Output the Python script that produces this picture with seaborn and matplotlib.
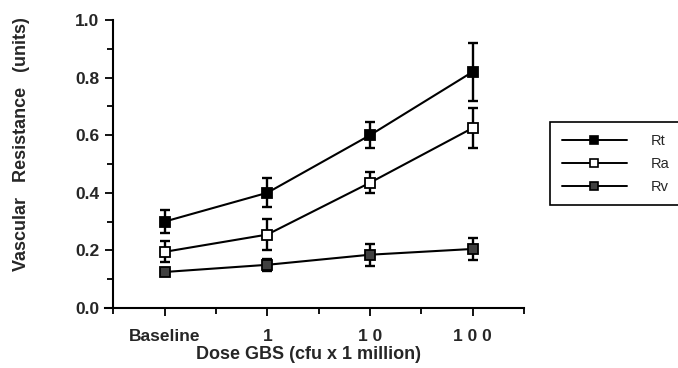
import matplotlib
matplotlib.use("Agg")
import matplotlib.pyplot as plt
from matplotlib.ticker import MultipleLocator
from matplotlib.lines import Line2D
import numpy as np
import seaborn as sns

# Dados
doses = ["Baseline", "1", "1 0", "1 0 0"]
rt = [0.30, 0.40, 0.60, 0.82]
rt_err = [0.04, 0.05, 0.045, 0.10]
ra = [0.195, 0.255, 0.435, 0.625]
ra_err = [0.037, 0.055, 0.037, 0.07]
rv = [0.125, 0.15, 0.185, 0.205]
rv_err = [0.008, 0.02, 0.038, 0.038]

series_names = ["Rt", "Ra", "Rv"]
series_vals = [rt, ra, rv]
series_errs = [rt_err, ra_err, rv_err]
face_colors = ["black", "white", "#404040"]

sns.set_theme(style="white")
plt.rcParams["font.family"] = ["Liberation Sans", "DejaVu Sans"]

fig = plt.figure(figsize=(6.78, 3.68), dpi=100)
ax = fig.add_axes([105 / 678, 1 - 308 / 368, (524 - 105) / 678, (308 - 20) / 368])

pos = np.arange(len(doses))
handles = []
for name, vals, errs, fc in zip(series_names, series_vals, series_errs, face_colors):
    ax.errorbar(pos, vals, yerr=errs, fmt="none", ecolor="black",
                elinewidth=1.7, capsize=3.5, capthick=1.7, zorder=2)
    sns.lineplot(x=pos, y=vals, color="black", linewidth=1.5, marker="s",
                 markersize=6.5, markerfacecolor=fc, markeredgecolor="black",
                 markeredgewidth=1.3, ax=ax, zorder=3)
    handles.append(Line2D([0], [0], color="black", linewidth=1.4, marker="s",
                          markersize=6, markerfacecolor=fc,
                          markeredgecolor="black", markeredgewidth=1.2))

ax.set_xlim(-0.58, 3.5)
ax.set_ylim(0, 1.0)
ax.spines["left"].set_position(("data", -0.5))
ax.spines["top"].set_visible(False)
ax.spines["right"].set_visible(False)
for s in ["left", "bottom"]:
    ax.spines[s].set_color("black")
    ax.spines[s].set_linewidth(1.5)

ax.set_xticks(pos)
ax.set_xticklabels(doses)
ax.xaxis.set_minor_locator(MultipleLocator(0.5))
ax.yaxis.set_major_locator(MultipleLocator(0.2))
ax.yaxis.set_minor_locator(MultipleLocator(0.1))
ax.yaxis.set_major_formatter(matplotlib.ticker.FormatStrFormatter("%.1f"))
ax.tick_params(which="both", direction="out", color="black", width=1.3,
               bottom=True, left=True)
ax.tick_params(which="major", length=6, labelsize=12.5)
ax.tick_params(axis="x", which="major", pad=9)
ax.tick_params(axis="y", which="major", pad=4)
ax.tick_params(which="minor", length=4)
for lab in ax.get_xticklabels() + ax.get_yticklabels():
    lab.set_fontweight("bold")

ax.set_xlabel("Dose GBS (cfu x 1 million)", fontsize=13, fontweight="bold")
ax.xaxis.set_label_coords(0.485, -0.132)
ax.set_ylabel("Vascular   Resistance   (units)", fontsize=13, fontweight="bold")
ax.yaxis.set_label_coords(-0.18, 0.57)

leg = fig.legend(handles, series_names, loc="upper left",
                 bbox_to_anchor=(550 / 678, 1 - 122 / 368), borderaxespad=0,
                 fontsize=10.5, handlelength=4.5, handletextpad=1.6,
                 borderpad=0.8, labelspacing=0.62, fancybox=False,
                 framealpha=1, edgecolor="black")
leg.get_frame().set_linewidth(1.2)

plt.savefig("out.png", dpi=100)
plt.close()
